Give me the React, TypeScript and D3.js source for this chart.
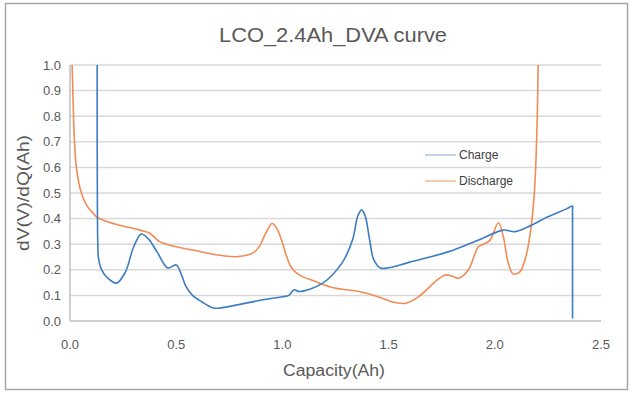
import * as d3 from 'd3';

const title = 'LCO_2.4Ah_DVA curve';
const xTicks = [0, 0.5, 1.0, 1.5, 2.0, 2.5];
const yTicks = [0, 0.1, 0.2, 0.3, 0.4, 0.5, 0.6, 0.7, 0.8, 0.9, 1.0];
const seriesNames = ['Charge', 'Discharge'];
const seriesColors = ['#3b7cc4', '#f28a55'];
const legendColors = ['#a9c3e3', '#f6b99a'];

// charge curve: capacity (Ah) / dV/dQ
const chargeCap = [
  0.128, 0.128, 0.129, 0.131, 0.135, 0.149, 0.175, 0.219, 0.26, 0.3, 0.336, 0.37, 0.41, 0.46, 0.5, 0.525,
  0.547, 0.577, 0.62, 0.67, 0.7, 0.8, 0.89, 1.0, 1.03, 1.055, 1.08, 1.19, 1.28, 1.33, 1.355, 1.373,
  1.39, 1.41, 1.43, 1.462, 1.5, 1.6, 1.78, 1.923, 2.04, 2.095, 2.158, 2.25, 2.335, 2.366, 2.366, 2.366,
];
const chargeVal = [
  1.05, 0.7, 0.45, 0.3, 0.24, 0.2, 0.17, 0.148, 0.19, 0.29, 0.34, 0.32, 0.27, 0.207, 0.219, 0.18,
  0.133, 0.1, 0.075, 0.052, 0.05, 0.065, 0.08, 0.095, 0.1, 0.122, 0.115, 0.148, 0.226, 0.316, 0.41, 0.434,
  0.41, 0.32, 0.24, 0.207, 0.208, 0.23, 0.27, 0.316, 0.355, 0.349, 0.368, 0.407, 0.437, 0.449, 0.44, 0.01,
];

// discharge curve
const dischargeCap = [
  0.01, 0.015, 0.02, 0.03, 0.05, 0.08, 0.11, 0.13, 0.203, 0.328, 0.375, 0.422, 0.5, 0.578, 0.68,
  0.78, 0.86, 0.89, 0.92, 0.951, 0.975, 0.993, 1.04, 1.079, 1.157, 1.235, 1.36, 1.439, 1.532, 1.579,
  1.642, 1.72, 1.767, 1.8, 1.83, 1.876, 1.923, 1.954, 1.978, 2.017, 2.04, 2.064, 2.087, 2.119, 2.15,
  2.173, 2.189, 2.2, 2.204,
];
const dischargeVal = [
  1.0, 0.85, 0.72, 0.6, 0.51, 0.45, 0.42, 0.404, 0.381, 0.355, 0.343, 0.31, 0.29, 0.277, 0.26,
  0.251, 0.265, 0.29, 0.34, 0.381, 0.36, 0.323, 0.212, 0.18, 0.154, 0.131, 0.115, 0.098, 0.072, 0.069,
  0.095, 0.154, 0.18, 0.175, 0.167, 0.2, 0.29, 0.303, 0.316, 0.384, 0.33, 0.225, 0.184, 0.193, 0.264,
  0.381, 0.54, 0.8, 1.0,
];

const W = 632;
const H = 396;
const left = 70;
const right = 601;
const top = 65;
const bottom = 321;
const font = '"Liberation Sans", Arial, sans-serif';
const textColor = '#595959';

export default function App() {
  const x = d3.scaleLinear().domain([0, 2.5]).range([left, right]);
  const y = d3.scaleLinear().domain([0, 1]).range([bottom, top]);

  const line = d3
    .line<[number, number]>()
    .x((d) => x(d[0]))
    .y((d) => y(d[1]))
    .curve(d3.curveCatmullRom.alpha(0.5));

  const charge = chargeCap.map((c, i) => [c, chargeVal[i]] as [number, number]);
  const discharge = dischargeCap.map((c, i) => [c, dischargeVal[i]] as [number, number]);

  return (
    <svg
      width={W}
      height={H}
      style={{ position: 'absolute', left: 0, top: 0, background: '#fff' }}
      fontFamily={font}
    >
      <rect x={5.5} y={3.5} width={622} height={386} fill="#fff" stroke="#a6a6a6" strokeWidth={1.5} />
      <text
        x={333}
        y={42}
        textAnchor="middle"
        fontSize={20}
        fill={textColor}
        textLength={228}
        lengthAdjust="spacingAndGlyphs"
      >
        {title}
      </text>

      <defs>
        <clipPath id="plot">
          <rect x={left} y={top} width={right - left} height={bottom - top} />
        </clipPath>
      </defs>

      {yTicks.map((t) => (
        <g key={t}>
          <line
            x1={left}
            x2={right}
            y1={y(t)}
            y2={y(t)}
            stroke={t === 0 ? '#bfbfbf' : '#d9d9d9'}
            strokeWidth={1.5}
          />
          <text x={61} y={y(t)} dy="0.35em" textAnchor="end" fontSize={13} fill={textColor}>
            {t.toFixed(1)}
          </text>
        </g>
      ))}
      <line x1={left} x2={left} y1={top} y2={bottom} stroke="#bfbfbf" strokeWidth={1.5} />

      {xTicks.map((t) => (
        <text key={t} x={x(t)} y={344} dy="0.35em" textAnchor="middle" fontSize={13} fill={textColor}>
          {t.toFixed(1)}
        </text>
      ))}

      <text
        x={334}
        y={370}
        dy="0.35em"
        textAnchor="middle"
        fontSize={16}
        fill={textColor}
        textLength={102}
        lengthAdjust="spacingAndGlyphs"
      >
        Capacity(Ah)
      </text>
      <text
        transform="translate(23,193) rotate(-90)"
        dy="0.35em"
        textAnchor="middle"
        fontSize={16}
        fill={textColor}
        textLength={116}
        lengthAdjust="spacingAndGlyphs"
      >
        dV(V)/dQ(Ah)
      </text>

      <g clipPath="url(#plot)">
        <path d={line(discharge) ?? ''} fill="none" stroke={seriesColors[1]} strokeWidth={1.6} />
        <path d={line(charge) ?? ''} fill="none" stroke={seriesColors[0]} strokeWidth={1.6} />
      </g>

      {seriesNames.map((n, i) => (
        <g key={n} transform={`translate(425,${155 + i * 26})`}>
          <line x1={0} x2={31} y1={0} y2={0} stroke={legendColors[i]} strokeWidth={1.5} />
          <text x={34} y={0} dy="0.35em" fontSize={12} fill="#404040">
            {n}
          </text>
        </g>
      ))}
    </svg>
  );
}
